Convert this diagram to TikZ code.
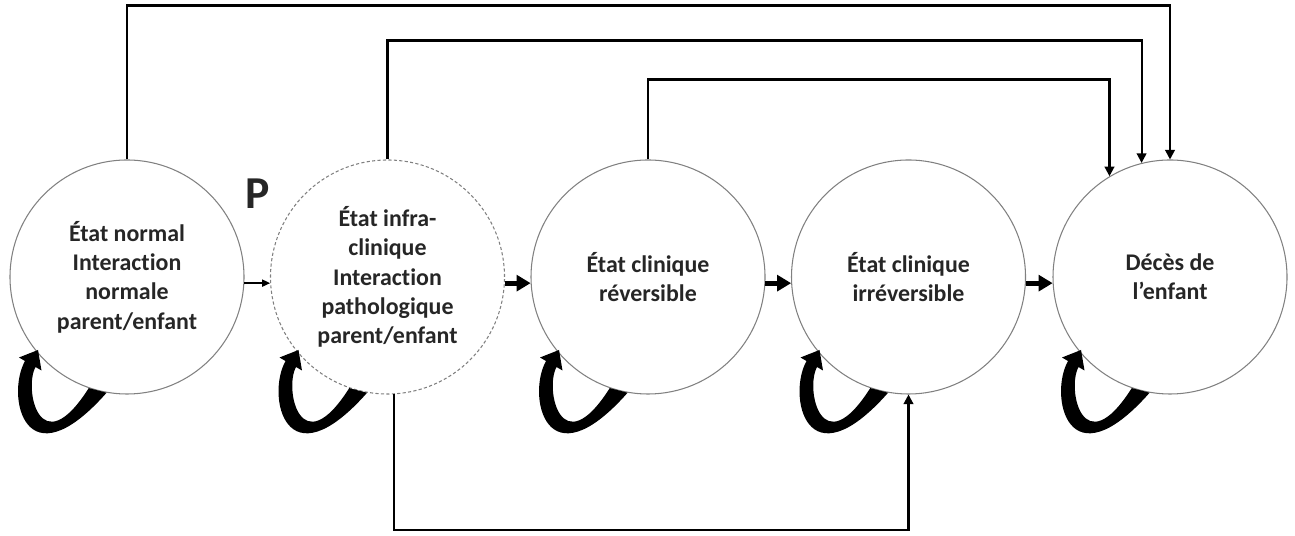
\documentclass[tikz,border=0pt]{standalone}
\usepackage{fontspec}
\setmainfont{Carlito}[Ligatures={NoCommon,NoContextual}]
\usetikzlibrary{arrows.meta,positioning,calc}

\begin{document}
\begin{tikzpicture}[
    state/.style={circle, draw=gray, line width=0.6pt, minimum size=4.68cm, inner sep=0pt, align=center, text=black!85, font=\bfseries\fontsize{13.6}{16.7}\selectfont},
    subclinical/.style={state, dash pattern=on 1.8pt off 1.3pt},
    thinarrow/.style={line width=0.8pt, -{Triangle[length=4.5pt, width=4pt]}},
    steparrow/.style={line width=3pt, -{Triangle[length=8pt, width=9pt]}},
    link/.style={line width=1.2pt, -{Triangle[length=5.5pt, width=5.5pt]}},
    selfloop/.style={fill=black}
]
\useasboundingbox (0,0) rectangle (25.9,10.72);

% States
\node[state] (normal) at (2.54, 5.18) {État normal\\Interaction\\normale\\parent/enfant};
\node[subclinical] (infra) at (7.75, 5.18) {État infra-\\clinique\\Interaction\\pathologique\\parent/enfant};
\node[state] (rev) at (12.96, 5.18) {État clinique\\réversible};
\node[state] (irrev) at (18.17, 5.18) {État clinique\\irréversible};
\node[state] (death) at (23.40, 5.18) {Décès de\\l’enfant};

% Label P
\node[font=\bfseries\fontsize{26}{30}\selectfont, text=black!85] (plabel) at (5.15, 6.84) {P};

% Transitions between neighbours
\draw[thinarrow] (normal.-3) -- (infra.183);
\draw[steparrow] (infra.-3) -- (rev.183);
\draw[steparrow] (rev.-3) -- (irrev.183);
\draw[steparrow] (irrev.-3) -- (death.183);

% Links to death
\draw[link] (normal.north) -- ++(0,3.08) -| (death.north);
\draw[link] (infra.north) -- ++(0,2.38) -| (death.104);
\draw[link] (rev.north) -- ++(0,1.6) -| (death.121);

% Link from subclinical to irreversible
\draw[link] (infra.-87) -- ++(0,-2.72) -| (irrev.south);

% Self loops (curved ribbon arrows)
\foreach \s in {normal, infra, rev, irrev, death} {
    \begin{scope}[shift={(\s.center)}]
    \fill[selfloop] (\s.-100) .. controls (-2.04,-4.16) and (-2.43,-2.38) .. (-2.04,-1.68)
        -- (-2.16,-1.61) -- (-1.78,-1.46) -- (-1.71,-1.87) -- (-1.83,-1.80)
        .. controls (-2.07,-2.24) and (-1.74,-3.76) .. (\s.-109) -- cycle;
    \end{scope}
}

\end{tikzpicture}
\end{document}
